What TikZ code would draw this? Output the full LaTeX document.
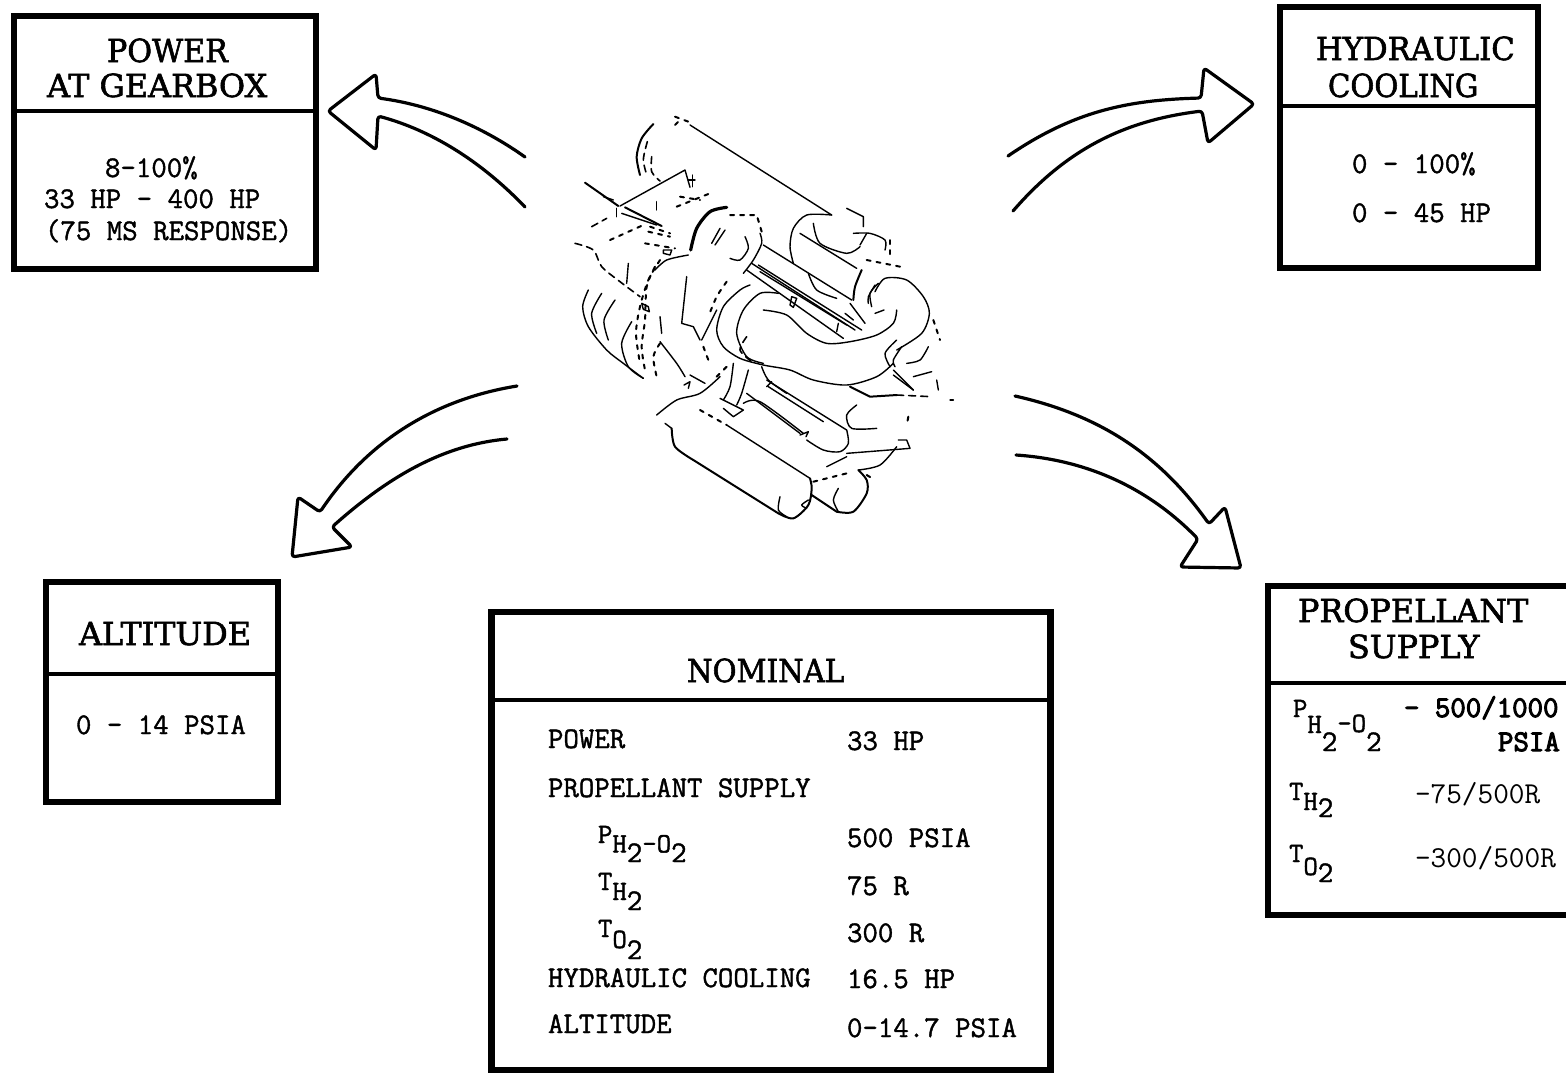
\documentclass[tikz,border=0pt]{standalone}
\usepackage{fontspec}
\usepackage{graphicx}
\newfontfamily\titlefont{DejaVu Serif}
\newfontfamily\monofont{Latin Modern Mono}
\newcommand{\ttl}{\titlefont\fontsize{15.9}{18}\selectfont}
\newcommand{\mon}{\monofont\fontsize{15}{17}\selectfont}
\newcommand{\mons}{\monofont\fontsize{14}{17}\selectfont}
\newcommand{\monl}{\monofont\fontsize{15.2}{17}\selectfont}
\newcommand{\dn}[2]{\raisebox{-#1pt}{#2}}
\newcommand{\ddn}[2]{\raisebox{-#1pt}{\mon #2}}
\newcommand{\sx}[2]{\scalebox{#1}[1]{#2}}
\newcommand{\strokeon}[1]{\special{pdf:literal direct #1 w 2 Tr}}
\newcommand{\strokeoff}{\special{pdf:literal direct 0 Tr}}
\tikzset{
  boxa/.style={draw=black,line width=3.3pt,inner sep=0pt,outer sep=0pt,fill=none,line join=miter},
  divline/.style={line width=1.8pt},
  plain text/.style={anchor=base west,inner sep=0pt,outer sep=0pt},
  ttext/.style={plain text,font=\ttl,execute at begin node=\strokeon{0.3},execute at end node=\strokeoff},
  mtext/.style={plain text,font=\mon,execute at begin node=\strokeon{0.2},execute at end node=\strokeoff},
  btext/.style={plain text,font=\mon,execute at begin node=\strokeon{0.5},execute at end node=\strokeoff},
  stext/.style={plain text,font=\mons,execute at begin node=\strokeon{0.2},execute at end node=\strokeoff},
  ltext/.style={plain text,font=\monl},
  bigarrow/.style={draw=black,line width=1.6pt,line join=round,line cap=round,rounded corners=1.5pt},
  eng/.style={draw=black,line width=0.7pt,line cap=round,line join=round},
  engb/.style={eng,line width=1pt},
  engd/.style={eng,line width=0.8pt,dash pattern=on 3.5pt off 2.5pt},
  engt/.style={eng,line width=1pt,dash pattern=on 2pt off 3pt}
}
\begin{document}
\begin{tikzpicture}[x=0.5pt,y=-0.5pt]
\useasboundingbox (0,0) rectangle (1566,1073);
% boxes
\node[boxa,minimum width=151pt,minimum height=126.5pt] (powerbox) at (165,142.5) {};
\coordinate (powerdiv) at (0,111);
\draw[divline] (powerbox.west |- powerdiv) -- (powerbox.east |- powerdiv);
\node[boxa,minimum width=129pt,minimum height=130.5pt] (hydbox) at (1409,137.5) {};
\coordinate (hyddiv) at (0,106);
\draw[divline] (hydbox.west |- hyddiv) -- (hydbox.east |- hyddiv);
\node[boxa,minimum width=116pt,minimum height=110pt] (altbox) at (162,692) {};
\coordinate (altdiv) at (0,674);
\draw[divline] (altbox.west |- altdiv) -- (altbox.east |- altdiv);
\node[boxa,minimum width=279.5pt,minimum height=229pt] (nombox) at (771,841) {};
\coordinate (nomdiv) at (0,700);
\draw[divline] (nombox.west |- nomdiv) -- (nombox.east |- nomdiv);
\coordinate (propTR) at (1566,586);
\coordinate (propTL) at (1268,586);
\coordinate (propBL) at (1268,915);
\coordinate (propBR) at (1566,915);
\coordinate (propDL) at (1268,683);
\coordinate (propDR) at (1566,683);
\draw[line width=3.3pt] (propTR) -- (propTL) -- (propBL) -- (propBR);
\draw[line width=2.4pt] (propDL) -- (propDR);
% arrows
\draw[bigarrow] (525,157) .. controls (480,125) and (430,105) .. (378,98) -- (376,74) -- (328,111) -- (376,150) -- (378,116) .. controls (430,130) and (480,160) .. (525,207);
\draw[bigarrow] (1008,156) .. controls (1075,110) and (1130,100) .. (1201,98) -- (1204,68) -- (1254,104) -- (1208,143) -- (1202,111) .. controls (1130,120) and (1070,145) .. (1013,211);
\draw[bigarrow] (517,386) .. controls (430,400) and (365,445) .. (320,512) -- (298,497) -- (292,557) -- (352,547) -- (332,527) .. controls (385,480) and (440,445) .. (507,439);
\draw[bigarrow] (1015,396) .. controls (1100,415) and (1160,455) .. (1209,524) -- (1225,507) -- (1241,568) -- (1180,567) -- (1198,539) .. controls (1150,490) and (1090,460) .. (1016,455);
% box titles
\node[ttext] (t1a) at (107,62) {\sx{.95}{POWER}};
\node[ttext] (t1b) at (47,97) {AT GEARBOX};
\node[mtext] (b1a) at (105,177) {8-100\%};
\node[mtext] (b1b) at (44,208) {33 HP - 400 HP};
\node[mtext] (b1c) at (45,240) {(75 MS RESPONSE)};
\node[ttext] (t2a) at (1316,60) {\sx{.965}{HYDRAULIC}};
\node[ttext] (t2b) at (1328,97) {\sx{.92}{COOLING}};
\node[mtext] (b2a) at (1352,173) {0 - 100\%};
\node[mtext] (b2b) at (1352,222) {0 - 45 HP};
\node[ttext] (t3) at (79,645) {ALTITUDE};
\node[mtext] (b3) at (76,734) {0 - 14 PSIA};
\node[ttext] (t4) at (687,682) {\sx{.92}{NOMINAL}};
\node[mtext] (n1) at (548,748) {POWER};
\node[mtext] (n2) at (548,797) {PROPELLANT SUPPLY};
\node[stext] (n3) at (598,843) {P\dn{4.7}{H}\ddn{9.5}{2}\dn{4.7}{-O}\ddn{9.5}{2}};
\node[stext] (n4) at (598,890) {T\dn{5}{H}\ddn{10}{2}};
\node[stext] (n5) at (598,937) {T\dn{5.5}{O}\ddn{11}{2}};
\node[mtext] (n6) at (548,987) {HYDRAULIC COOLING};
\node[mtext] (n7) at (548,1033) {ALTITUDE};
\node[mtext] (v1) at (847,750) {33 HP};
\node[mtext] (v3) at (847,847) {500 PSIA};
\node[mtext] (v4) at (847,895) {75 R};
\node[mtext] (v5) at (847,942) {300 R};
\node[mtext] (v6) at (847,988) {16.5 HP};
\node[mtext] (v7) at (847,1037) {0-14.7 PSIA};
\node[ttext] (t5a) at (1298,622) {PROPELLANT};
\node[ttext] (t5b) at (1348,658) {SUPPLY};
\node[stext] (p1) at (1293,717) {P\dn{8}{H}\ddn{17}{2}\dn{7.5}{-O}\ddn{17}{2}};
\node[btext] (p1v) at (1404,717) {- 500/1000};
\node[btext] (p1u) at (1498,751) {PSIA};
\node[stext] (p2) at (1289,800) {T\dn{5}{H}\ddn{8.5}{2}};
\node[ltext] (p2v) at (1415,803) {-75/500R};
\node[stext] (p3) at (1289,862) {T\dn{6.5}{O}\ddn{10}{2}};
\node[ltext] (p3v) at (1415,867) {-300/500R};
% engine, traced
\begin{scope}[shift={(560,100)},x=0.16667pt,y=-0.16667pt]
\draw[eng] (390,75) -- (815,345);
\draw[engb] plot[smooth] coordinates {(280,72) (245,115) (230,170) (240,225)};
\draw[engd] plot[smooth] coordinates {(262,125) (250,180) (262,230)};
\draw[engd] plot[smooth] coordinates {(275,170) (275,215) (300,243)};
\draw[engt] (345,50) -- (385,65);
\draw[engt] (345,75) -- (360,60);
% rods
\draw[engb] (75,248) -- (175,318);
\draw[engb] (195,322) -- (305,378);
\draw[eng] (185,340) -- (290,375);
\draw[eng] (180,318) -- (375,210) -- (390,262);
\draw[eng] (170,325) -- (170,350);
\draw[eng] (398,225) -- (398,260);
\draw[eng] (385,240) -- (405,240);
\draw[eng] (130,290) -- (160,300);
% left housing
\draw[engd] (95,380) -- (140,355);
\draw[engt] (150,420) -- (250,375);
\draw[engd] plot[smooth] coordinates {(45,430) (100,450) (125,500) (180,545) (240,590)};
\draw[engt] (265,395) -- (330,410);
\draw[engt] (255,430) -- (345,445);
\draw[engt] (350,320) -- (450,280);
\draw[eng] (290,305) -- (290,330);
\draw[eng] (205,490) -- (200,550);
\draw[eng] (310,450) -- (335,450) -- (330,465) -- (310,460) -- cycle;
\draw[engt] (360,290) -- (420,300);
\draw[engt] (270,380) -- (330,400);
% left cylinder
\draw[eng] plot[smooth] coordinates {(85,570) (68,620) (85,680) (140,750) (190,790) (250,835)};
\draw[eng] plot[smooth] coordinates {(125,580) (95,640) (110,700)};
\draw[eng] plot[smooth] coordinates {(165,600) (132,660) (145,720)};
\draw[eng] plot[smooth] coordinates {(215,665) (185,730) (205,800) (250,835)};
\draw[engt] plot[smooth] coordinates {(300,480) (265,540) (240,620) (228,700) (240,790)};
\draw[engt] plot[smooth] coordinates {(285,500) (260,560) (255,660) (245,740) (255,810)};
\draw[eng] (245,610) -- (265,620) -- (268,635) -- (250,628) -- cycle;
% ring
\draw[eng,line width=1.6pt] plot[smooth] coordinates {(392,450) (410,385) (450,335) (500,322)};
\draw[eng] plot[smooth] coordinates {(600,400) (605,430) (580,480) (550,520)};
\draw[engt] (510,345) -- (590,345) -- (605,395);
\draw[eng] plot[smooth] coordinates {(555,410) (565,445) (540,480) (510,475)};
\draw[eng] (455,430) -- (480,385);
\draw[eng] (465,435) -- (495,390);
% main body
\draw[eng] plot[smooth] coordinates {(385,465) (320,480) (285,510)};
\draw[eng] (300,650) -- (305,700);
\draw[eng] (380,530) -- (365,670) -- (400,680) -- (420,720);
\draw[eng] (470,630) -- (425,720);
\draw[eng] plot[smooth] coordinates {(300,725) (350,790) (375,830)};
\draw[engt] plot[smooth] coordinates {(300,730) (280,770) (290,830)};
\draw[engt] plot[smooth] coordinates {(500,545) (470,590) (445,650)};
\draw[engt] (430,740) -- (445,780);
% S pipe
\draw[eng] plot[smooth] coordinates {(945,575) (975,535) (1040,540) (1090,590) (1108,640) (1085,700) (1010,750)};
\draw[eng] plot[smooth] coordinates {(1000,790) (950,830) (860,855) (760,840) (690,810) (610,795) (540,775) (490,740) (470,690) (490,620) (540,570) (570,555)};
\draw[eng] plot[smooth] coordinates {(655,580) (600,580) (550,630) (530,700) (560,770) (610,790)};
\draw[eng] plot[smooth] coordinates {(610,630) (680,645) (740,700) (800,730) (870,725) (950,705) (1000,670) (1010,630)};
\draw[eng] plot[smooth] coordinates {(1010,720) (975,760) (990,800)};
\draw[eng] plot[smooth] coordinates {(1025,740) (1000,780) (1005,800)};
\draw[eng] plot[smooth] coordinates {(955,550) (930,580) (935,620)};
\draw[eng] plot[smooth] coordinates {(945,555) (925,590) (925,610)};
\draw[engd] plot[smooth] coordinates {(560,710) (540,750) (575,785)};
% upper-right cylinder
\draw[eng] plot[smooth] coordinates {(815,345) (740,345) (700,385) (690,440) (700,490)};
\draw[eng] (720,400) -- (890,505);
\draw[eng] plot[smooth] coordinates {(760,370) (780,430) (860,460) (900,440)};
\draw[eng] (610,435) -- (875,600);
\draw[eng] plot[smooth] coordinates {(745,520) (770,570) (830,595)};
\draw[eng] (860,325) -- (910,350) -- (910,380);
\draw[eng] plot[smooth] coordinates {(880,400) (930,400) (975,420) (975,450)};
\draw[eng] (920,400) -- (900,435);
\draw[engt] (990,420) -- (990,470);
\draw[engb] plot[smooth] coordinates {(905,510) (885,560) (880,600)};
\draw[engt] (920,480) -- (1020,500);
% rails
\draw[eng] (575,490) -- (885,690);
\draw[eng] (595,495) -- (905,690);
\draw[eng] (560,510) -- (850,715);
\draw[eng] (600,515) -- (860,675);
\draw[eng] (695,590) -- (710,595) -- (700,622) -- (690,615) -- cycle;
\draw[eng] (855,640) -- (880,660);
\draw[eng] (835,670) -- (830,695);
\draw[eng] (945,640) -- (972,630);
\draw[eng] (870,610) -- (915,670);
% lower tubes
\draw[eng] (620,840) -- (860,990);
\draw[eng] (625,860) -- (790,965);
\draw[eng] (560,880) -- (720,1000);
\draw[eng] plot[smooth] coordinates {(550,910) (600,905) (730,1000)};
\draw[eng] (720,1005) -- (745,995) -- (738,1010);
\draw[eng] plot[smooth] coordinates {(860,990) (865,1030) (840,1055) (790,1050) (740,1020)};
\draw[eng] (620,860) -- (635,845);
% bottom cylinders
\draw[engb] plot[smooth] coordinates {(335,985) (345,1040) (400,1080)};
\draw[engb] (400,1080) -- (655,1240);
\draw[engb] plot[smooth] coordinates {(655,1240) (700,1255) (745,1215) (755,1165) (750,1135)};
\draw[eng] (500,975) -- (750,1135);
\draw[engt] (420,930) -- (500,975);
\draw[eng] plot[smooth] coordinates {(660,1190) (655,1230) (680,1250)};
\draw[eng] plot[smooth] coordinates {(745,1200) (725,1215) (740,1225)};
\draw[engb] (755,1185) -- (830,1235);
\draw[engb] plot[smooth] coordinates {(830,1235) (880,1235) (920,1180) (920,1140) (895,1110)};
\draw[eng] plot[smooth] coordinates {(835,1165) (820,1200) (835,1235)};
\draw[engt] (760,1145) -- (860,1120);
\draw[engt] (920,1125) -- (945,1140);
% right blob
\draw[eng] plot[smooth] coordinates {(890,915) (860,945) (875,985) (950,985)};
\draw[eng] plot[smooth] coordinates {(895,1110) (960,1095) (1010,1040)};
\draw[eng] (860,1060) -- (1050,1045) -- (1040,1020) -- (1015,1020);
\draw[engb] (870,860) -- (930,890) -- (1010,885);
\draw[engd] (1010,885) -- (1115,890);
\draw[eng] (1000,810) -- (1060,870);
\draw[eng] (1000,825) -- (1060,870);
\draw[eng] (1060,830) -- (1115,815);
\draw[eng] (1130,840) -- (1135,870);
\draw[eng] plot[smooth] coordinates {(1040,790) (1080,780) (1105,740)};
\draw[engt] (1120,660) -- (1140,720);
\draw[eng] (1170,900) -- (1180,900);
\draw[engt] (1045,950) -- (1040,975);
\draw[eng] (800,1100) -- (860,1070);
% centre junk
\draw[eng] (390,825) -- (435,850);
\draw[eng] (372,855) -- (390,845) -- (385,865);
\draw[eng] plot[smooth] coordinates {(290,945) (350,900) (420,880) (480,830)};
\draw[eng] (480,895) -- (550,930) -- (520,950) -- (490,925);
\draw[eng] plot[smooth] coordinates {(520,790) (510,860) (490,900)};
\draw[eng] plot[smooth] coordinates {(565,810) (545,880) (530,915)};
\draw[eng] (315,970) -- (335,985);
\draw[engt] (470,830) -- (500,800);
\draw[eng] plot[smooth] coordinates {(605,800) (625,840) (680,880)};
\end{scope}
\end{tikzpicture}
\end{document}
